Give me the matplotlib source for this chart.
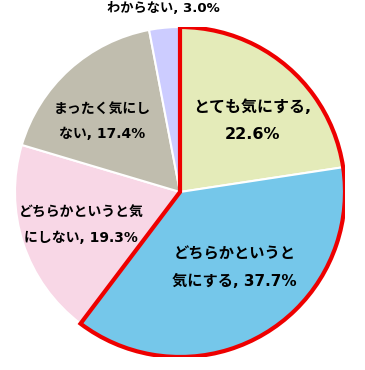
import numpy as np
import matplotlib.pyplot as plt
from matplotlib.patches import Wedge

# Latin glyphs from DejaVu (wide, like the original), kana/kanji from Noto CJK
plt.rcParams['font.family'] = ['DejaVu Sans', 'Noto Sans CJK JP']

labels = ['とても気にする', 'どちらかというと気にする', 'どちらかというと気にしない',
          'まったく気にしない', 'わからない']
values = [22.6, 37.7, 19.3, 17.4, 3.0]
colors = ['#E4EBB9', '#75C7EA', '#F8D7E6', '#C0BDAE', '#CCCCFF']

# label texts and where they sit (x, y in pie units)
label_text = ['とても気にする,\n22.6%', 'どちらかというと\n気にする, 37.7%',
              'どちらかというと気\nにしない, 19.3%', 'まったく気にし\nない, 17.4%',
              'わからない, 3.0%']
label_pos = [(0.44, 0.43), (0.33, -0.46), (-0.60, -0.20), (-0.47, 0.43), (-0.10, 1.115)]
label_size = [11.5, 11, 10, 10, 9.5]

fig = plt.figure(figsize=(3.65, 3.70), dpi=100)
ax = fig.add_axes([15 / 365, 13 / 370, 330 / 365, 330 / 370])

ax.pie(values, colors=colors, startangle=90, counterclock=False,
       wedgeprops=dict(edgecolor='white', linewidth=1.5))

# red outline around the "気にする" group
share = (values[0] + values[1]) / sum(values)
ax.add_patch(Wedge((0, 0), 1, 90 - 360 * share, 90, fill=False,
                   edgecolor='#EE0000', linewidth=3, joinstyle='miter', zorder=5))

for t, (x, y), s in zip(label_text, label_pos, label_size):
    ax.text(x, y, t, ha='center', va='center', fontsize=s, fontweight='bold',
            linespacing=2.0, color='black', zorder=6, clip_on=False)

ax.set_xlim(-1, 1)
ax.set_ylim(-1, 1)
ax.set_aspect('equal')
ax.axis('off')

fig.savefig('out.png', dpi=100)
